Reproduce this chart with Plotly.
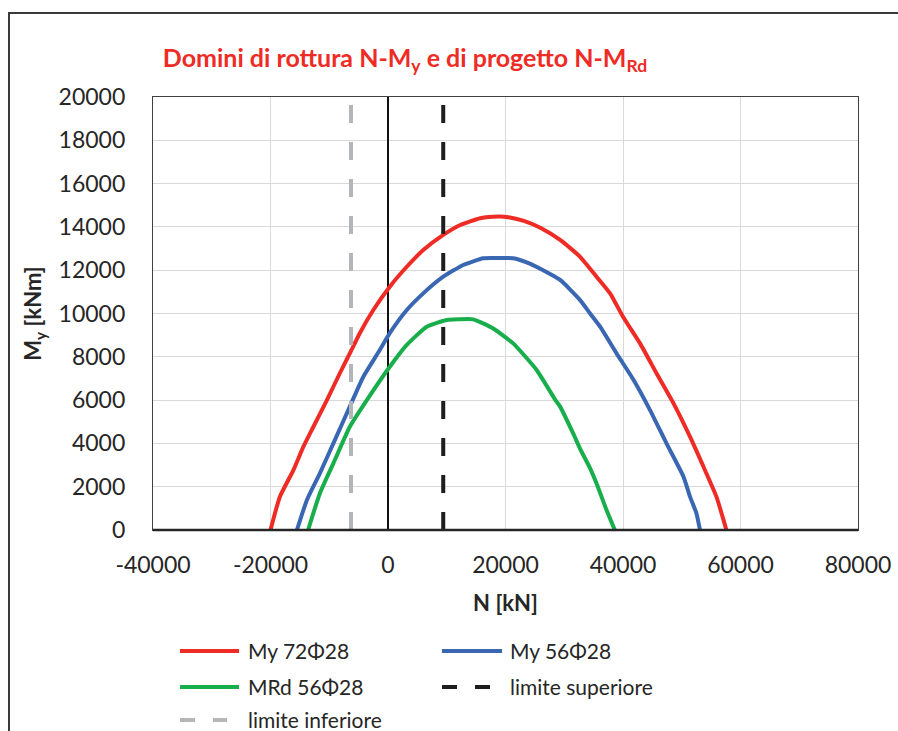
import plotly.graph_objects as go

# ---------------- data ----------------
red_N = [-20000, -18400, -16100, -14400, -12700, -10400, -8200, -6500, -4800, -2500,
         300, 3200, 6000, 9400, 12300, 15700, 18800, 20500, 23000, 26000,
         29300, 32700, 35500, 37800, 40000, 42900, 45700, 48600, 51400, 53700,
         55900, 57600]
red_M = [0, 1540, 2770, 3850, 4770, 6000, 7240, 8160, 9090, 10160,
         11240, 12160, 12930, 13630, 14090, 14400, 14480, 14450, 14290, 13950,
         13400, 12620, 11700, 10930, 9850, 8620, 7240, 5850, 4310, 2920,
         1540, 0]

blue_N = [-15500, -13800, -11600, -9300, -6500, -4200, -1400, 300, 3200, 6000,
          9400, 12800, 16200, 18500, 21300, 23700, 26400, 29300, 32700, 34400,
          36100, 38900, 41800, 44600, 47400, 50300, 51400, 52500, 53100]
blue_M = [0, 1390, 2620, 4000, 5700, 7080, 8310, 9090, 10160, 10930,
          11700, 12240, 12550, 12560, 12550, 12350, 12000, 11550, 10620, 10000,
          9390, 8160, 6930, 5540, 4000, 2460, 1540, 770, 0]

green_N = [-13600, -11600, -9300, -6500, -3600, 300, 3200, 6600, 10000, 12000,
           14500, 17900, 21300, 25300, 28500, 29300, 31500, 32700, 34400, 35500,
           37200, 38600]
green_M = [0, 1690, 3080, 4770, 6000, 7540, 8550, 9390, 9700, 9730,
           9730, 9310, 8620, 7390, 6000, 5700, 4470, 3750, 2850, 2150,
           920, 0]

lim_sup_N = [9400, 9400]
lim_inf_N = [-6300, -6300]
lim_M = [0, 20000]

series_names = ["My 72Φ28", "My 56Φ28", "MRd 56Φ28", "limite superiore", "limite inferiore"]
series_colors = ["#EE2B24", "#3A67B1", "#17AE4B", "#1E1E1E", "#B4B5B8"]

x_ticks = [-40000, -20000, 0, 20000, 40000, 60000, 80000]
y_ticks = list(range(0, 20001, 2000))

FONT = "Lato"
TXT = "#262626"

fig = go.Figure()
curves = [(red_N, red_M), (blue_N, blue_M), (green_N, green_M)]
for (xs, ys), name, col in zip(curves, series_names[:3], series_colors[:3]):
    fig.add_trace(go.Scatter(x=xs, y=ys, mode="lines", name=name,
                             line=dict(color=col, width=4, shape="spline", smoothing=0.5),
                             showlegend=False))
fig.add_trace(go.Scatter(x=lim_sup_N, y=lim_M, mode="lines", name=series_names[3],
                         line=dict(color=series_colors[3], width=4, dash="18px,19px"),
                         showlegend=False))
fig.add_trace(go.Scatter(x=lim_inf_N, y=lim_M, mode="lines", name=series_names[4],
                         line=dict(color=series_colors[4], width=4, dash="18px,19px"),
                         showlegend=False))

# pixel -> paper helpers (plot area: x 153..858, y 97..530)
L, R, T, B = 153, 858, 97, 530
def px(xp):
    return (xp - L) / (R - L)
def py(yp):
    return (B - yp) / (B - T)

shapes = []
annotations = []
# outer chart frame
shapes.append(dict(type="rect", xref="paper", yref="paper",
                   x0=px(9), x1=px(920), y0=py(760), y1=py(13),
                   line=dict(color="#3a3a3a", width=2), fillcolor="rgba(0,0,0,0)", layer="below"))
# bottom axis line (thicker)
shapes.append(dict(type="line", xref="paper", yref="paper", x0=0, x1=1, y0=0, y1=0,
                   line=dict(color="#262626", width=2.5)))

# manual legend
legend_layout = [
    (0, 180, 239, 651, 246, None),
    (1, 442, 502, 651, 508, None),
    (2, 180, 239, 687, 246, None),
    (3, 442, 490, 687, 508, "15px,18px"),
    (4, 180, 227, 720, 246, "15px,18px"),
]
for idx, x0, x1, yy, xt, dash in legend_layout:
    ln = dict(color=series_colors[idx], width=4)
    if dash:
        ln["dash"] = dash
    shapes.append(dict(type="line", xref="paper", yref="paper",
                       x0=px(x0), x1=px(x1), y0=py(yy), y1=py(yy), line=ln))
    annotations.append(dict(xref="paper", yref="paper", x=px(xt), y=py(yy - 1),
                            text=series_names[idx], showarrow=False,
                            xanchor="left", yanchor="middle",
                            font=dict(family=FONT, size=21, color=TXT)))

fig.update_layout(
    width=898, height=731,
    margin=dict(l=L, r=898 - R, t=T, b=731 - B),
    paper_bgcolor="white", plot_bgcolor="white",
    showlegend=False,
    font=dict(family=FONT, color=TXT),
    title=dict(text="<b>Domini di rottura N-M<sub>y</sub> e di progetto N-M<sub>Rd</sub></b>",
               x=405 / 898, xanchor="center", xref="container",
               y=1 - 58 / 731, yanchor="middle", yref="container",
               font=dict(family=FONT, size=25, color="#EE2B24")),
    shapes=shapes,
    annotations=annotations,
)
fig.update_xaxes(range=[-40000, 80000], tickvals=x_ticks, ticktext=[str(v) for v in x_ticks],
                 showgrid=True, gridcolor="#D9D9D9", gridwidth=1,
                 zeroline=True, zerolinecolor="#111111", zerolinewidth=1.6,
                 showline=True, linecolor="#404040", linewidth=1.2, mirror=True,
                 ticks="", ticklabelstandoff=14,
                 tickfont=dict(family=FONT, size=23, color=TXT),
                 title=dict(text="<b>N [kN]</b>", standoff=18,
                            font=dict(family=FONT, size=22, color=TXT)),
                 automargin=False)
fig.update_yaxes(range=[0, 20000], tickvals=y_ticks, ticktext=[str(v) for v in y_ticks],
                 showgrid=True, gridcolor="#D9D9D9", gridwidth=1,
                 zeroline=False,
                 showline=True, linecolor="#404040", linewidth=1.2, mirror=True,
                 ticks="", ticklabelstandoff=22,
                 tickfont=dict(family=FONT, size=23, color=TXT),
                 title=dict(text="<b>M<sub>y</sub> [kNm]</b>", standoff=10,
                            font=dict(family=FONT, size=22, color=TXT)),
                 automargin=False)

fig.write_html("out.html")
